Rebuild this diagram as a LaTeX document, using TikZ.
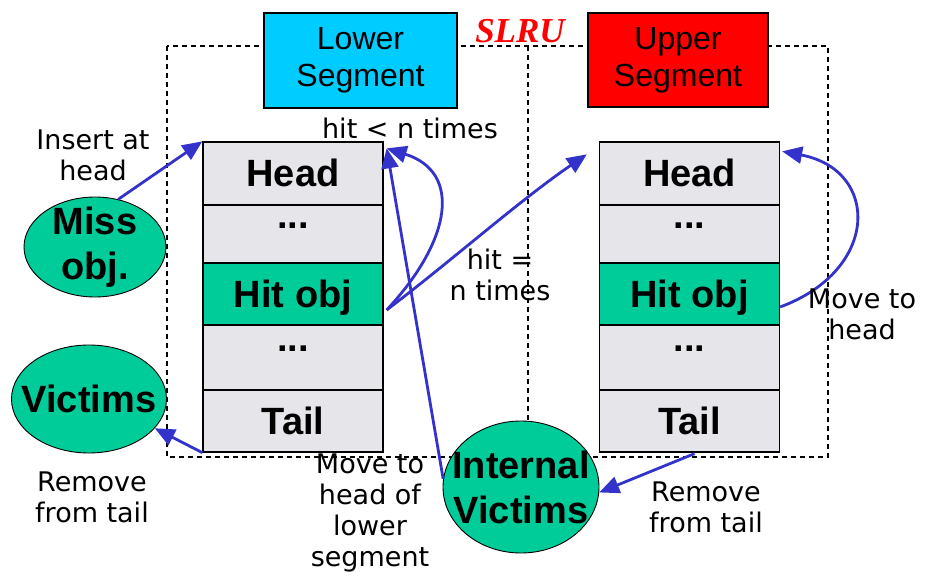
\documentclass[tikz,border=0pt]{standalone}
\usepackage{fontspec}
\setmainfont{Liberation Sans}
\newfontfamily\notefont{DejaVu Sans}
\newfontfamily\titlefont{Liberation Serif}
\usetikzlibrary{arrows.meta,shapes.geometric,calc}

\definecolor{cellgray}{HTML}{E6E6EA}
\definecolor{hitgreen}{HTML}{00CC99}
\definecolor{lowcyan}{HTML}{00CCFF}
\definecolor{upred}{HTML}{FF0000}
\definecolor{arrowblue}{HTML}{3333CC}

\begin{document}
\begin{tikzpicture}[x=1pt,y=-1pt,
  cell/.style={draw=black, line width=1.3pt, fill=cellgray, minimum width=180pt,
    inner sep=0pt, font=\bfseries\fontsize{38}{40}\selectfont,
    text height=27pt, text depth=0pt},
  hitcell/.style={cell, fill=hitgreen},
  segbox/.style={draw=black, line width=1.3pt, inner sep=0pt, align=center,
    font=\fontsize{32}{37}\selectfont},
  blob/.style={ellipse, draw=black, line width=0.9pt, fill=hitgreen, inner sep=0pt},
  blobtext/.style={inner sep=0pt, align=center, font=\bfseries\fontsize{38}{45}\selectfont},
  note/.style={align=center, font=\notefont\fontsize{27}{31}\selectfont, inner sep=0pt},
  flow/.style={draw=arrowblue, line width=2.8pt, -{Triangle[length=20pt,width=17pt]}},
  frame/.style={draw=black, line width=1.2pt, dash pattern=on 5pt off 4pt}
]
\useasboundingbox (0,0) rectangle (935,585);

% dashed SLRU frame and the divider between the two segments
\draw[frame] (167,46) rectangle (828,457);
\draw[frame] (528,46) -- (528,457);

% lower segment list
\node[cell, minimum height=63pt] (LH)   at (293,173.5) {Head};
\node[cell, minimum height=58pt] (LD1)  at (293,234)   {\raisebox{0.5em}{...}};
\node[hitcell, minimum height=62pt] (LHit) at (293,294) {Hit obj};
\node[cell, minimum height=65pt] (LD2)  at (293,357.5) {\raisebox{0.5em}{...}};
\node[cell, minimum height=62pt] (LT)   at (293,421)   {Tail};

% upper segment list
\node[cell, minimum height=63pt] (RH)   at (689.5,173.5) {Head};
\node[cell, minimum height=58pt] (RD1)  at (689.5,234)   {\raisebox{0.5em}{...}};
\node[hitcell, minimum height=62pt] (RHit) at (689.5,294) {Hit obj};
\node[cell, minimum height=65pt] (RD2)  at (689.5,357.5) {\raisebox{0.5em}{...}};
\node[cell, minimum height=62pt] (RT)   at (689.5,421)   {Tail};

% segment titles
\node[segbox, fill=lowcyan, minimum width=193pt, minimum height=95pt] (lowseg) at (360.5,60.5) {Lower\\Segment};
\node[segbox, fill=upred, minimum width=180pt, minimum height=94pt] (upseg) at (678,60) {Upper\\Segment};
\node[text=upred, inner sep=0pt, font=\titlefont\bfseries\itshape\fontsize{35}{37}\selectfont] (slru) at (520,31) {SLRU};

% objects entering and leaving the cache
\node[blob, minimum width=142pt, minimum height=100pt] (miss) at (95,247) {};
\node[blobtext] (misstext) at (miss.center) {Miss\\obj.};
\node[blob, minimum width=155pt, minimum height=108pt] (vic) at (89,399) {};
\node[blobtext] (victext) at (vic.center) {Victims};
\node[blob, minimum width=156pt, minimum height=132pt] (iv) at (521,487) {};
\node[blobtext] (ivtext) at (iv.center) {Internal\\Victims};

% free ends of connectors
\coordinate (hitout) at ($(LHit.east)+(3,16)$);
\coordinate (lowhead) at ($(LH.north east)+(3,7)$);
\coordinate (uphead) at ($(RH.north west)+(-12,13)$);

% connectors
\draw[flow] (miss.64) -- (LH.north west);
\draw[flow] (LT.south west) -- (vic.-24);
\draw[flow] (iv.174) -- (lowhead);
\draw[flow] (hitout) .. controls (452,240) and (462,172) .. (lowhead);
\draw[flow] (hitout) .. controls (450,262) and (520,200) .. (uphead);
\draw[flow] ($(RHit.east)+(0,13)$) .. controls (880,270) and (880,170) .. ($(RH.north east)+(2,10)$);
\draw[flow] ($(RT.south)+(5,1)$) -- (iv.-4);

% annotations
\node[note] (insnote) at (93,155) {Insert at\\head};
\node[note] (hitlt) at (410,128) {hit < n times};
\node[note] (hiteq) at (500,275) {hit =\\n times};
\node[note] (mvhd) at (862,314) {Move to\\head};
\node[note] (rmleft) at (92,497) {Remove\\from tail};
\node[note] (mvlow) at (370,513) {Move to\\head of\\lower\\segment};
\node[note] (rmright) at (706,507) {Remove\\from tail};
\end{tikzpicture}
\end{document}
